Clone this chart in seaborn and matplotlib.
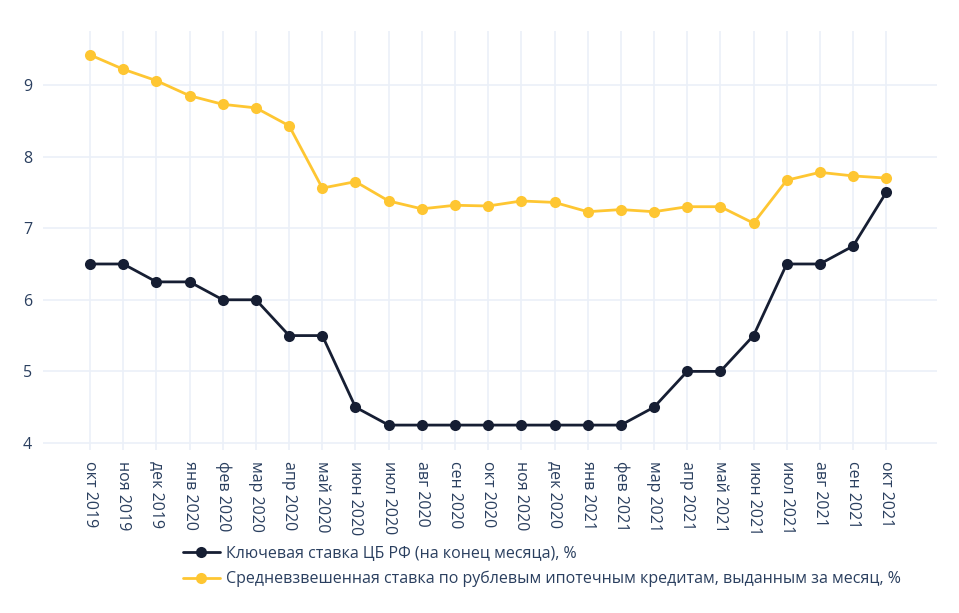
import numpy as np
import pandas as pd
import matplotlib
matplotlib.use("Agg")
import matplotlib.pyplot as plt
import seaborn as sns

months = ["окт 2019", "ноя 2019", "дек 2019", "янв 2020", "фев 2020", "мар 2020",
          "апр 2020", "май 2020", "июн 2020", "июл 2020", "авг 2020", "сен 2020",
          "окт 2020", "ноя 2020", "дек 2020", "янв 2021", "фев 2021", "мар 2021",
          "апр 2021", "май 2021", "июн 2021", "июл 2021", "авг 2021", "сен 2021",
          "окт 2021"]
key_rate = [6.5, 6.5, 6.25, 6.25, 6.0, 6.0, 5.5, 5.5, 4.5, 4.25, 4.25, 4.25,
            4.25, 4.25, 4.25, 4.25, 4.25, 4.5, 5.0, 5.0, 5.5, 6.5, 6.5, 6.75, 7.5]
mortgage_rate = [9.42, 9.22, 9.06, 8.85, 8.73, 8.68, 8.43, 7.56, 7.65, 7.38, 7.27, 7.32,
                 7.31, 7.38, 7.36, 7.23, 7.26, 7.23, 7.30, 7.30, 7.07, 7.67, 7.78, 7.73, 7.70]
key_label = "Ключевая ставка ЦБ РФ (на конец месяца), %"
mort_label = "Средневзвешенная ставка по рублевым ипотечным кредитам, выданным за месяц, %"

navy = "#161e33"
yellow = "#fec632"
text_color = "#2a3f5f"
grid_color = "#ebf0f8"

sns.set_theme(style="white")
plt.rcParams["font.family"] = ["Open Sans", "DejaVu Sans"]

df = pd.DataFrame({"pos": np.arange(len(months)), "key": key_rate, "mort": mortgage_rate})

fig = plt.figure(figsize=(9.59, 6.13), dpi=100)
ax = fig.add_axes([43 / 959, 1 - 450 / 613, (937 - 43) / 959, (450 - 31) / 613])

sns.lineplot(data=df, x="pos", y="key", ax=ax, color=navy, linewidth=2,
             marker="o", markersize=8, markeredgewidth=0, label=key_label, zorder=3)
sns.lineplot(data=df, x="pos", y="mort", ax=ax, color=yellow, linewidth=2,
             marker="o", markersize=8, markeredgewidth=0, label=mort_label, zorder=3)

ax.set_xlim(-1.42, 25.53)
ax.set_ylim(3.902, 9.754)
ax.set_xticks(df["pos"])
ax.set_xticklabels(months, rotation=-90, va="top", ha="center")
ax.set_yticks([4, 5, 6, 7, 8, 9])
ax.tick_params(axis="both", length=0, labelsize=11.5, colors=text_color)
ax.tick_params(axis="x", pad=8)
ax.tick_params(axis="y", pad=8)
ax.grid(True, color=grid_color, linewidth=1.2)
ax.set_axisbelow(True)
for s in ax.spines.values():
    s.set_visible(False)
ax.set_xlabel("")
ax.set_ylabel("")

handles, labels = ax.get_legend_handles_labels()
ax.get_legend().remove()
leg = fig.legend(handles, labels, loc="upper left", bbox_to_anchor=(183 / 959, 1 - 546 / 613),
                 frameon=False, fontsize=11.5, handlelength=2.3, handletextpad=0.4,
                 labelspacing=0.55, borderpad=0, borderaxespad=0)
for t in leg.get_texts():
    t.set_color(text_color)

fig.savefig("out.png", dpi=100, facecolor="white")
